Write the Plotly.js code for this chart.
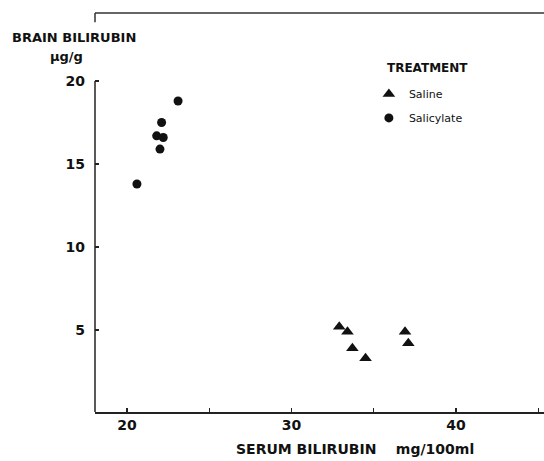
<!DOCTYPE html>
<html>
<head>
<meta charset="utf-8">
<script src="https://cdn.plot.ly/plotly-3.0.1.min.js"></script>
<style>html,body{margin:0;padding:0;background:#fff;}#chart{width:544px;height:461px;}</style>
</head>
<body>
<div id="chart"></div>
<script>
// Data
const salineSerum = [32.9, 33.4, 33.7, 34.5, 36.9, 37.1];
const salineBrain = [5.2, 4.9, 3.9, 3.3, 4.9, 4.2];
const salicylateSerum = [23.1, 22.1, 21.8, 22.2, 22.0, 20.6];
const salicylateBrain = [18.8, 17.5, 16.7, 16.6, 15.9, 13.8];
const xTickVals = [20, 25, 30, 35, 40, 45];
const xTickText = ['20', '', '30', '', '40', ''];
const yTickVals = [5, 10, 15, 20];
const yTickText = ['5', '10', '15', '20'];
const seriesNames = ['Saline', 'Salicylate'];

const FONT = 'DejaVu Sans';
const INK = '#111';

const traces = [
  {
    x: salineSerum, y: salineBrain, name: seriesNames[0], mode: 'markers', type: 'scatter',
    legendgroup: 'a',
    marker: {symbol: 'triangle-up', size: 11, color: INK}
  },
  {
    x: salicylateSerum, y: salicylateBrain, name: seriesNames[1], mode: 'markers', type: 'scatter',
    legendgroup: 'b',
    marker: {symbol: 'circle', size: 9, color: INK}
  }
];

const layout = {
  width: 544, height: 461,
  margin: {l: 95, r: 0, t: 13, b: 49},
  paper_bgcolor: '#fff', plot_bgcolor: '#fff',
  font: {family: FONT, color: INK},
  showlegend: true,
  legend: {
    x: 0.61, y: 0.8335, xanchor: 'left', yanchor: 'top',
    font: {family: FONT, size: 11, color: INK},
    tracegroupgap: 5, bgcolor: 'rgba(0,0,0,0)', borderwidth: 0
  },
  xaxis: {
    range: [18.05, 45.35], showgrid: false, zeroline: false,
    showline: true, linecolor: '#222', linewidth: 1.5,
    ticks: 'inside', ticklen: 4, tickwidth: 1.2, tickcolor: '#222',
    tickvals: xTickVals, ticktext: xTickText,
    tickfont: {family: FONT, size: 14, color: INK, weight: 'bold'}
  },
  yaxis: {
    range: [0.06, 24.1], showgrid: false, zeroline: false, showline: false,
    ticks: 'inside', ticklen: 4, tickwidth: 1.2, tickcolor: '#222',
    tickvals: yTickVals, ticktext: yTickText,
    ticklabelstandoff: 9,
    tickfont: {family: FONT, size: 14, color: INK, weight: 'bold'}
  },
  shapes: [
    {type: 'line', xref: 'paper', yref: 'y', x0: 0, x1: 0, y0: 0.06, y1: 20, line: {color: '#222', width: 1.5}},
    {type: 'line', xref: 'paper', yref: 'paper', x0: 0, x1: 1, y0: 1, y1: 1, line: {color: '#333', width: 1.5}},
    {type: 'line', xref: 'paper', yref: 'y', x0: 0, x1: 0, y0: 24.1, y1: 23.55, line: {color: '#333', width: 1.5}}
  ],
  annotations: [
    {xref: 'paper', yref: 'paper', x: -0.1893, y: 0.9388, xanchor: 'left', yanchor: 'middle', showarrow: false,
     text: 'BRAIN BILIRUBIN', font: {family: FONT, size: 13, color: INK, weight: 'bold'}},
    {xref: 'paper', yref: 'paper', x: -0.0624, y: 0.89, xanchor: 'center', yanchor: 'middle', showarrow: false,
     text: 'μg/g', font: {family: FONT, size: 13, color: INK, weight: 'bold'}},
    {xref: 'paper', yref: 'paper', x: 0.6459, y: 0.8625, xanchor: 'left', yanchor: 'middle', showarrow: false,
     text: 'TREATMENT', font: {family: FONT, size: 12, color: INK, weight: 'bold'}},
    {xref: 'paper', yref: 'paper', x: 0.5791, y: -0.0925, xanchor: 'center', yanchor: 'middle', showarrow: false,
     text: 'SERUM BILIRUBIN\u00a0\u00a0\u00a0\u00a0mg/100ml', font: {family: FONT, size: 14, color: INK, weight: 'bold'}}
  ]
};

Plotly.newPlot('chart', traces, layout, {displayModeBar: false, staticPlot: true});
</script>
</body>
</html>
